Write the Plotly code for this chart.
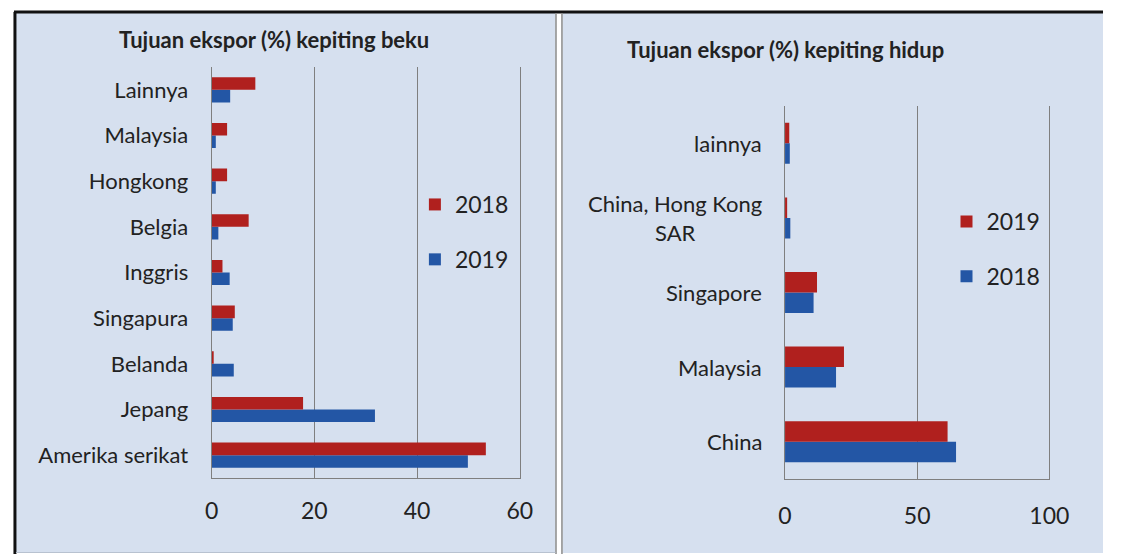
import plotly.graph_objects as go

W, H = 1103, 554   # effective viewport width used for layout fractions

# ---- data ----
beku_categories = ["Amerika serikat", "Jepang", "Belanda", "Singapura", "Inggris",
                   "Belgia", "Hongkong", "Malaysia", "Lainnya"]
beku_2018 = [53.4, 17.8, 0.35, 4.5, 2.1, 7.2, 3.0, 3.0, 8.5]
beku_2019 = [49.9, 31.8, 4.3, 4.1, 3.5, 1.3, 0.8, 0.8, 3.6]

hidup_categories = ["China", "Malaysia", "Singapore", "China, Hong Kong<br>SAR", "lainnya"]
hidup_2019 = [61.5, 22.3, 12.1, 0.8, 1.6]
hidup_2018 = [64.7, 19.3, 10.8, 2.0, 1.8]

beku_ticks = [0, 20, 40, 60]
hidup_ticks = [0, 50, 100]

RED = "#B0201E"
BLUE = "#2356A5"
PANEL = "rgb(214,224,239)"
GRID = "#7F7F7F"
TXT = "#222222"
FONT = "Lato"


def px(x):
    return min(x / W, 1.0)


def py(y):
    return 1 - y / H


fig = go.Figure()

# left chart (blue first so that it sits at the bottom of each group)
fig.add_trace(go.Bar(y=beku_categories, x=beku_2019, orientation="h", name="2019",
                     marker=dict(color=BLUE, line=dict(width=0)), xaxis="x", yaxis="y",
                     legend="legend", legendrank=2, legendgroup="b19"))
fig.add_trace(go.Bar(y=beku_categories, x=beku_2018, orientation="h", name="2018",
                     marker=dict(color=RED, line=dict(width=0)), xaxis="x", yaxis="y",
                     legend="legend", legendrank=1, legendgroup="b18"))
# right chart
fig.add_trace(go.Bar(y=hidup_categories, x=hidup_2018, orientation="h", name="2018",
                     marker=dict(color=BLUE, line=dict(width=0)), xaxis="x2", yaxis="y2",
                     legend="legend2", legendrank=2, legendgroup="h18"))
fig.add_trace(go.Bar(y=hidup_categories, x=hidup_2019, orientation="h", name="2019",
                     marker=dict(color=RED, line=dict(width=0)), xaxis="x2", yaxis="y2",
                     legend="legend2", legendrank=1, legendgroup="h19"))

shapes = [
    # panels
    dict(type="rect", xref="paper", yref="paper", x0=px(9), x1=px(552), y0=py(553), y1=py(13),
         fillcolor=PANEL, line=dict(width=0), layer="below"),
    dict(type="rect", xref="paper", yref="paper", x0=px(559), x1=1, y0=py(553), y1=py(13),
         fillcolor=PANEL, line=dict(width=0), layer="below"),
    # borders
    dict(type="line", xref="paper", yref="paper", x0=px(7), x1=1, y0=py(12), y1=py(12),
         line=dict(color="#111111", width=3)),
    dict(type="line", xref="paper", yref="paper", x0=px(8), x1=px(8), y0=py(554), y1=py(12),
         line=dict(color="#111111", width=3)),
    dict(type="line", xref="paper", yref="paper", x0=px(552.5), x1=px(552.5), y0=py(554), y1=py(13),
         line=dict(color="#8A8A8A", width=1.5)),
    dict(type="line", xref="paper", yref="paper", x0=px(558.5), x1=px(558.5), y0=py(554), y1=py(13),
         line=dict(color="#8A8A8A", width=1.5)),
    dict(type="line", xref="paper", yref="paper", x0=px(9), x1=px(552), y0=py(552.5), y1=py(552.5),
         line=dict(color="#B8C2D0", width=1)),
]

annotations = [
    dict(text="<b>Tujuan ekspor (%) kepiting beku</b>", xref="paper", yref="paper",
         x=px(268.5), y=py(39), xanchor="center", yanchor="middle", showarrow=False,
         font=dict(family=FONT, size=22, color=TXT)),
    dict(text="<b>Tujuan ekspor (%) kepiting hidup</b>", xref="paper", yref="paper",
         x=px(783), y=py(50), xanchor="center", yanchor="middle", showarrow=False,
         font=dict(family=FONT, size=22, color=TXT)),
]
# right chart category labels (centered multi-line text)
for c in hidup_categories:
    annotations.append(dict(text=c, xref="paper", yref="y2", x=px(762), y=c,
                            xanchor="right", yanchor="middle", align="center", showarrow=False,
                            font=dict(family=FONT, size=22, color=TXT)))

fig.update_layout(
    autosize=True,
    height=H,
    margin=dict(l=0, r=0, t=0, b=0),
    paper_bgcolor="white",
    plot_bgcolor="white",
    barmode="group",
    bargap=0.45,
    bargroupgap=0,
    font=dict(family=FONT, color=TXT),
    shapes=shapes,
    annotations=annotations,
    xaxis=dict(domain=[px(206), px(516)], anchor="y", range=[0, 60], tickvals=beku_ticks,
               showgrid=True, gridcolor=GRID, gridwidth=1.2, zeroline=False,
               showline=True, linecolor=GRID, linewidth=1.2,
               ticks="outside", ticklen=12, tickcolor="rgba(0,0,0,0)",
               tickfont=dict(family=FONT, size=23, color=TXT), fixedrange=True),
    yaxis=dict(domain=[py(478), py(67)], anchor="x", type="category",
               categoryarray=beku_categories, categoryorder="array",
               showline=True, mirror=True, linecolor=GRID, linewidth=1.2, showgrid=False,
               ticks="outside", ticklen=18, tickcolor="rgba(0,0,0,0)",
               tickfont=dict(family=FONT, size=22, color=TXT), fixedrange=True),
    xaxis2=dict(domain=[px(783), px(1049)], anchor="y2", range=[0, 100], tickvals=hidup_ticks,
                showgrid=True, gridcolor=GRID, gridwidth=1.2, zeroline=False,
                showline=True, linecolor=GRID, linewidth=1.2,
                ticks="outside", ticklen=16, tickcolor="rgba(0,0,0,0)",
                tickfont=dict(family=FONT, size=23, color=TXT), fixedrange=True),
    yaxis2=dict(domain=[py(479), py(106)], anchor="x2", type="category",
                categoryarray=hidup_categories, categoryorder="array",
                showline=True, mirror=True, linecolor=GRID, linewidth=1.2, showgrid=False,
                showticklabels=False, fixedrange=True),
    legend=dict(x=px(410.5), y=py(183), xanchor="left", yanchor="top",
                bgcolor="rgba(0,0,0,0)", borderwidth=0, tracegroupgap=22,
                font=dict(family=FONT, size=23, color=TXT)),
    legend2=dict(x=px(945.5), y=py(200), xanchor="left", yanchor="top",
                 bgcolor="rgba(0,0,0,0)", borderwidth=0, tracegroupgap=22,
                 font=dict(family=FONT, size=23, color=TXT)),
)

fig.write_html(
    "out.html",
    config={"displayModeBar": False, "responsive": True},
    default_width="100vw",
    default_height="554px",
    post_script=(
        "document.body.style.margin='0';"
        "document.body.style.overflow='hidden';"
        "document.documentElement.style.overflow='hidden';"
    ),
)
